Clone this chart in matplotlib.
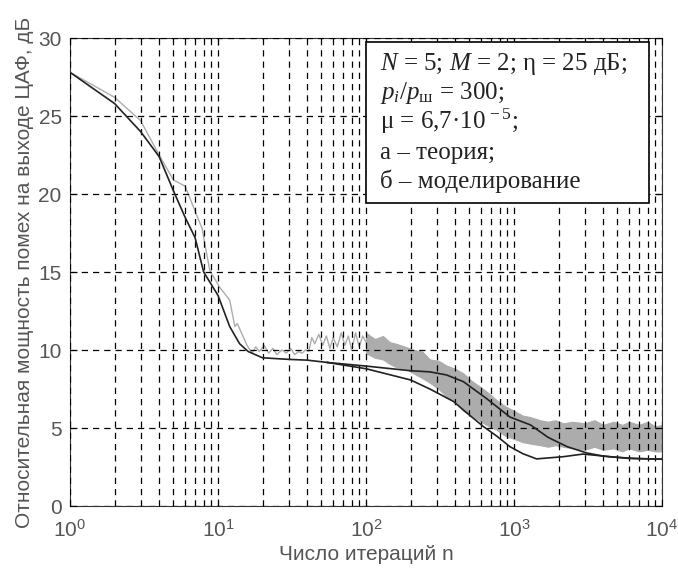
"""
Interference power at the adaptive-filter output vs. iteration count
(theory vs. simulation), recreated from a scanned figure.
"""

import matplotlib
matplotlib.use("Agg")
import matplotlib.pyplot as plt
from matplotlib.patches import Rectangle
from matplotlib.ticker import LogLocator, NullFormatter, MultipleLocator

plt.rcParams["font.family"] = ["Liberation Sans", "DejaVu Sans"]
plt.rcParams["mathtext.fontset"] = "custom"
plt.rcParams["mathtext.rm"] = "Liberation Serif"
plt.rcParams["mathtext.it"] = "Liberation Serif:italic"

# --- data ---
# two theory curves share the start, split near n = 55
theory_head_n = [1, 2, 3, 4, 5, 6, 7, 8, 10, 12, 14, 16, 20, 30, 40, 55]
theory_head_v = [27.8, 25.8, 24.0, 22.4, 20.2, 18.5, 17.2, 15.0, 13.5, 11.5, 10.4, 9.9, 9.5, 9.4, 9.35, 9.2]

lower_n = [55, 100, 200, 270, 390, 455, 620, 760, 940, 1150, 1420, 2150, 2930, 4650, 6500, 10000]
lower_v = [9.2, 8.8, 8.08, 7.5, 6.7, 6.15, 5.1, 4.5, 3.8, 3.35, 3.02, 3.16, 3.33, 3.14, 3.05, 3.0]

upper_n = [55, 100, 200, 270, 350, 455, 650, 940, 1290, 1700, 2290, 3100, 4000, 6000, 10000]
upper_v = [9.2, 8.97, 8.67, 8.6, 8.4, 7.97, 6.9, 5.7, 5.2, 4.4, 3.8, 3.4, 3.2, 3.05, 3.0]

# simulation: thin trace early on
sim_n = [1, 2, 3, 4, 5, 6, 6.8, 7.8, 8.8, 10.3, 12, 13, 13.5, 15.7, 17, 18, 19, 20.5, 22, 23.5,
         25, 27, 29, 31, 33, 35, 37, 39, 41, 43, 45, 48, 51, 54, 57, 60, 64, 68, 72, 76, 80,
         85, 90, 95, 100]
sim_v = [27.8, 26.2, 24.7, 22.5, 20.9, 20.5, 19.2, 17.8, 15.1, 14.0, 13.2, 11.5, 11.7, 10.3, 9.8,
         10.2, 9.9, 10.3, 9.8, 10.1, 9.7, 10.0, 9.8, 10.1, 9.7, 9.9, 9.8, 10.0, 9.9, 10.8, 10.4,
         11.0, 10.3, 10.9, 10.1, 10.8, 10.2, 11.1, 10.3, 10.9, 10.0, 11.1, 10.2, 10.9, 10.5]

# simulation: dense noisy band later on (lower / upper envelope)
band_n = [100, 115, 130, 145, 160, 185, 210, 240, 270, 310, 350, 400, 455, 520, 600, 680, 760,
          870, 1000, 1140, 1290, 1500, 1700, 1900, 2150, 2500, 3000, 3500, 4000, 4700, 5400,
          6000, 7000, 8000, 9000, 10000]
band_lo = [9.8, 9.5, 9.4, 9.1, 8.9, 8.8, 8.5, 8.2, 7.9, 7.5, 7.0, 6.7, 6.1, 5.8, 5.4, 5.1, 4.9,
           4.5, 4.3, 4.1, 4.0, 3.9, 3.8, 3.9, 3.8, 3.7, 3.6, 3.8, 3.6, 3.7, 3.5, 3.7, 3.5, 3.6,
           3.5, 3.5]
band_hi = [11.1, 10.7, 10.9, 10.5, 10.4, 10.2, 10.0, 9.9, 9.4, 9.3, 9.0, 8.8, 8.5, 8.0, 7.6,
           7.2, 6.8, 6.4, 6.1, 5.8, 5.7, 5.5, 5.4, 5.5, 5.3, 5.4, 5.3, 5.5, 5.2, 5.4, 5.2, 5.4,
           5.2, 5.4, 5.1, 5.2]

legend_lines = [
    r"$N$ = 5; $M$ = 2; η = 25 дБ;",
    r"$p_i/p_\mathrm{ш}$ = 300;",
    r"μ = 6,7·10$^{\,-5}$;",
    "а – теория;",
    "б – моделирование",
]

W, H = 678, 570
fig = plt.figure(figsize=(W / 100, H / 100), dpi=100)
L, R, T, B = 70, 662, 38, 506
ax = fig.add_axes([L / W, 1 - B / H, (R - L) / W, (B - T) / H])

gray = "#acacac"
dark = "#222222"
ax.fill_between(band_n, band_lo, band_hi, color=gray, lw=0.8, zorder=2)
ax.plot(sim_n, sim_v, color=gray, lw=1.0, zorder=2)
ax.plot(theory_head_n, theory_head_v, color=dark, lw=1.2, zorder=4)
ax.plot(lower_n, lower_v, color=dark, lw=1.2, zorder=4)
ax.plot(upper_n, upper_v, color=dark, lw=1.2, zorder=4)

ax.set_xscale("log")
ax.set_xlim(1, 1e4)
ax.set_ylim(0, 30)
ax.yaxis.set_major_locator(MultipleLocator(5))
ax.xaxis.set_major_locator(LogLocator(base=10))
ax.xaxis.set_minor_locator(LogLocator(base=10, subs=range(2, 10)))
ax.xaxis.set_minor_formatter(NullFormatter())

grid_kw = dict(color="black", ls=(0, (5, 4)), lw=0.9)
ax.grid(True, which="major", axis="both", **grid_kw)
ax.grid(True, which="minor", axis="x", **grid_kw)
ax.set_axisbelow(False)

ax.tick_params(which="both", direction="in", top=True, right=True, colors="black",
               labelcolor="#555555", labelsize=15)
ax.tick_params(axis="y", pad=6)
ax.tick_params(axis="x", pad=9)
ax.tick_params(which="major", length=5)
ax.tick_params(which="minor", length=3)
for s in ax.spines.values():
    s.set_color("#333333")

ax.set_xlabel("Число итераций n", fontsize=15, color="#555555", labelpad=3)
ax.set_ylabel("Относительная мощность помех на выходе ЦАФ, дБ", fontsize=15,
              color="#555555", labelpad=3)

# annotation box
box = Rectangle((0.5, 0.647), 0.478, 0.344, transform=ax.transAxes,
                facecolor="white", edgecolor="black", lw=1.2, zorder=6)
ax.add_patch(box)
y0 = (B - 70) / (B - T)
step = 29.5 / (B - T)
for i, line in enumerate(legend_lines):
    ax.text((380 - L) / (R - L), y0 - i * step, line, transform=ax.transAxes,
            family="Liberation Serif", fontsize=18, color="#222222",
            va="baseline", ha="left", zorder=7)

fig.savefig("out.png", dpi=100)
